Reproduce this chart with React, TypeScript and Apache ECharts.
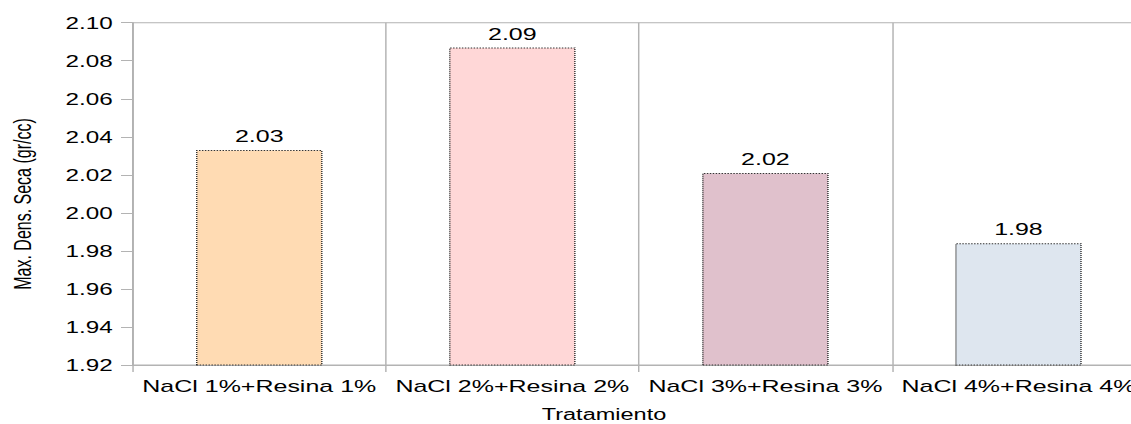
import React, { useEffect, useRef } from "react";
import * as echarts from "echarts";

// Dry density by treatment
const categories = [
  "NaCl 1%+Resina 1%",
  "NaCl 2%+Resina 2%",
  "NaCl 3%+Resina 3%",
  "NaCl 4%+Resina 4%",
];
const densities = [2.033, 2.087, 2.021, 1.984];
const barColors = ["#ffdbb3", "#ffd7d7", "#e0c1cc", "#dee6ef"];

const yMin = 1.92;
const yMax = 2.1;
const yStep = 0.02;

const yTitle = "Max. Dens. Seca (gr/cc)";
const xTitle = "Tratamiento";

// the chart is laid out narrow and widened horizontally
const STRETCH = 1.47;
const CHART_W = 790;
const CHART_H = 424;
const FONT = "'Liberation Sans', Arial, sans-serif";
const GRID_COLOR = "#b3b3b3";

export default function App() {
  const ref = useRef<HTMLDivElement>(null);

  useEffect(() => {
    if (!ref.current) return;
    const chart = echarts.init(ref.current, null, { renderer: "svg" });
    chart.setOption({
      animation: false,
      backgroundColor: "#ffffff",
      textStyle: { fontFamily: FONT, color: "#000" },
      grid: {
        left: 90.3,
        right: CHART_W - 778.9,
        top: 22.7,
        bottom: CHART_H - 365,
        show: true,
        borderColor: GRID_COLOR,
        borderWidth: 1,
      },
      xAxis: {
        type: "category",
        data: categories,
        boundaryGap: true,
        axisLine: { show: true, lineStyle: { color: GRID_COLOR, width: 1 } },
        axisTick: { show: true, length: 7, lineStyle: { color: GRID_COLOR } },
        splitLine: { show: true, lineStyle: { color: GRID_COLOR, width: 1 } },
        axisLabel: {
          interval: 0,
          margin: 13,
          fontSize: 17,
          color: "#000",
          fontFamily: FONT,
        },
      },
      yAxis: {
        type: "value",
        min: yMin,
        max: yMax,
        interval: yStep,
        axisLine: { show: true, lineStyle: { color: GRID_COLOR, width: 1 } },
        axisTick: { show: true, length: 8, lineStyle: { color: GRID_COLOR } },
        splitLine: { show: false },
        axisLabel: {
          margin: 13.6,
          fontSize: 16.5,
          color: "#000",
          fontFamily: FONT,
          formatter: (v: number) => v.toFixed(2),
        },
      },
      series: [
        {
          type: "bar",
          barWidth: "50%",
          data: densities.map((v, i) => ({
            value: v,
            itemStyle: {
              color: barColors[i],
              borderColor: "#333",
              borderWidth: 1,
              borderType: "dotted",
            },
          })),
          label: {
            show: true,
            position: "top",
            distance: 5,
            fontSize: 17,
            color: "#000",
            fontFamily: FONT,
            formatter: (p: any) => Number(p.value).toFixed(2),
          },
        },
      ],
      graphic: [
        {
          type: "text",
          x: 15.3,
          y: 204,
          rotation: Math.PI / 2,
          style: {
            text: yTitle,
            fontSize: 16,
            fontFamily: FONT,
            fill: "#000",
            align: "center",
            verticalAlign: "middle",
          },
        },
        {
          type: "text",
          x: 604 / STRETCH,
          y: 414,
          style: {
            text: xTitle,
            fontSize: 16,
            fontFamily: FONT,
            fill: "#000",
            align: "center",
            verticalAlign: "middle",
          },
        },
      ],
    });
    return () => chart.dispose();
  }, []);

  return (
    <div
      style={{
        position: "fixed",
        left: 0,
        top: 0,
        width: 1131,
        height: 424,
        overflow: "hidden",
        background: "#fff",
      }}
    >
      <div
        ref={ref}
        style={{
          width: CHART_W,
          height: CHART_H,
          transform: `scaleX(${STRETCH})`,
          transformOrigin: "0 0",
        }}
      />
    </div>
  );
}
